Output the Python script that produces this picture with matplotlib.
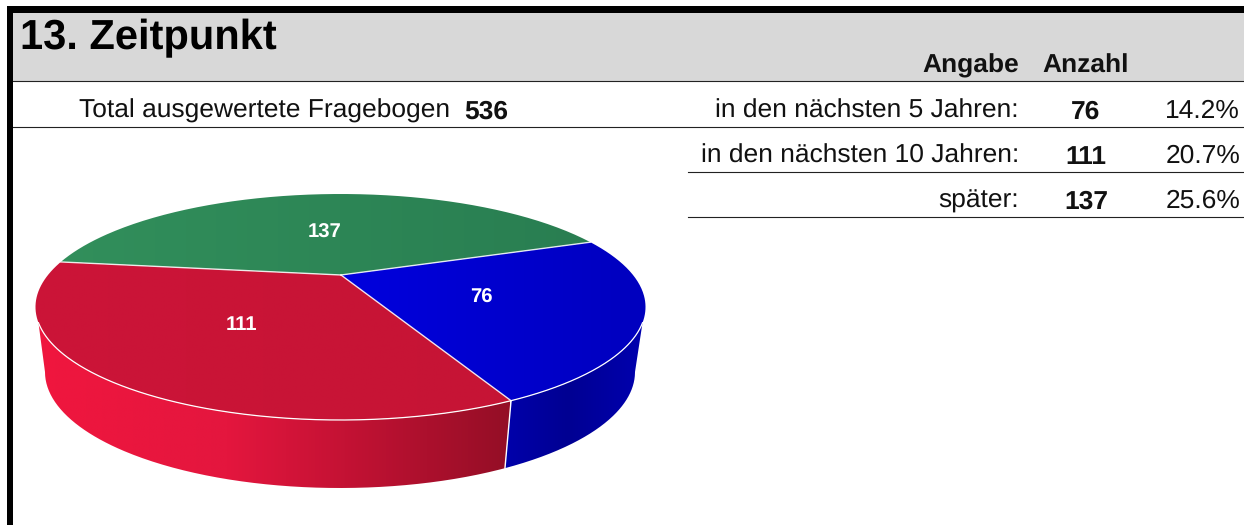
import numpy as np
import matplotlib
matplotlib.use("Agg")
import matplotlib.pyplot as plt
from matplotlib.path import Path
from matplotlib.patches import PathPatch, Rectangle

plt.rcParams['font.family'] = ['Liberation Sans', 'DejaVu Sans']
plt.rcParams['text.hinting'] = 'no_hinting'
plt.rcParams['text.hinting_factor'] = 8

title = "13. Zeitpunkt"
total_label = "Total ausgewertete Fragebogen"
total_value = "536"
header_answer = "Angabe"
header_count = "Anzahl"
answers = ["in den nächsten 5 Jahren:", "in den nächsten 10 Jahren:", "später:"]
counts = [76, 111, 137]
percents = ["14.2%", "20.7%", "25.6%"]

# slices as drawn, clockwise from the blue slice's start
slice_labels = ["76", "111", "137"]
slice_sweeps = [91.0, 147.5, 121.5]
slice_top_colors = [((0, 0, 222), (0, 0, 190)), ((204, 20, 56), (196, 20, 52)), ((50, 144, 92), (40, 124, 80))]
start_angle = 35.0

W, H = 1244, 525
fig = plt.figure(figsize=(W / 100, H / 100), dpi=100, facecolor="white")
ax = fig.add_axes([0, 0, 1, 1])
ax.set_xlim(0, W)
ax.set_ylim(H, 0)
ax.axis("off")

# page frame
ax.add_patch(Rectangle((13, 12), W - 13, 69, fc="#d8d8d8", ec="none", zorder=1))
ax.add_patch(Rectangle((7, 6), W - 7, 6.5, fc="black", ec="none", zorder=2))
ax.add_patch(Rectangle((7, 6), 6, H - 6, fc="black", ec="none", zorder=2))
for x0, yy in [(13, 81), (13, 127), (688, 172), (688, 217)]:
    ax.plot([x0, W], [yy, yy], color="#222222", lw=0.8, zorder=3)

# texts
ax.text(20, 49.5, title, fontsize=30, fontweight="bold", ha="left", va="baseline", color="black")
ax.text(450, 118, total_label, fontsize=19, ha="right", va="baseline", color="#111111")
ax.text(464, 119, total_value, fontsize=19, fontweight="bold", ha="left", va="baseline", color="#111111")
ax.text(1019, 72.5, header_answer, fontsize=19, fontweight="bold", ha="right", va="baseline", color="#111111")
ax.text(1086, 72.5, header_count, fontsize=19, fontweight="bold", ha="center", va="baseline", color="#111111")
for i, (a, c, p) in enumerate(zip(answers, counts, percents)):
    yb = 118 + 45 * i
    ax.text(1019, yb, a, fontsize=19, ha="right", va="baseline", color="#111111")
    ax.text(1086, yb + 1, str(c), fontsize=19, fontweight="bold", ha="center", va="baseline", color="#111111")
    ax.text(1240, yb, p, fontsize=19, ha="right", va="baseline", color="#111111")

# pie geometry
cx, cy, rx, ry = 340.5, 307.0, 305.0, 113.0
bx, by, brx, bry = 340.0, 372.0, 295.0, 116.0
ax_, ay_ = 341.0, 275.0


def gradient(clip, x0, x1, y0, y1, stops, z):
    xs = np.linspace(0, 1, 256)
    pos = [s[0] for s in stops]
    arr = np.stack([np.interp(xs, pos, [s[1][k] / 255 for s in stops]) for k in range(3)], axis=-1)[None, :, :]
    im = ax.imshow(arr, extent=(x0, x1, y1, y0), aspect="auto", zorder=z, interpolation="bilinear")
    patch = PathPatch(clip, transform=ax.transData, fc="none", ec="none")
    ax.add_patch(patch)
    im.set_clip_path(patch)


def top_pt(t):
    return cx + rx * np.cos(np.radians(t)), cy - ry * np.sin(np.radians(t))


def base_pt(t):
    return bx + brx * np.cos(np.radians(t)), by - bry * np.sin(np.radians(t))


def poly(pts):
    return Path(np.vstack([pts, pts[:1]]))


edges = [start_angle]
for s in slice_sweeps:
    edges.append(edges[-1] - s)

# side wall: front part of the rim only
rim_a, rim_b = -8.0, -172.0
front_split = edges[1]
walls = [
    (rim_a, front_split, 0.0, front_split, [(0, (0, 0, 172)), (0.45, (0, 0, 146)), (1, (0, 0, 176))], 503, 646),
    (front_split, rim_b, front_split, -180.0,
     [(0, (240, 22, 62)), (0.4, (228, 22, 62)), (0.65, (196, 18, 52)), (1, (148, 14, 38))], 38, 510),
]
for t0, t1, b0, b1, stops, x0, x1 in walls:
    top = np.array([top_pt(t) for t in np.linspace(t0, t1, 200)])
    bot = np.array([base_pt(t) for t in np.linspace(b1, b0, 200)])
    gradient(poly(np.vstack([top, bot])), x0, x1, 300, 495, stops, 4)

# top faces
for i in range(3):
    ts = np.linspace(edges[i], edges[i + 1], 200)
    pts = np.vstack([[(ax_, ay_)], [top_pt(t) for t in ts]])
    c0, c1 = slice_top_colors[i]
    if i == 0:
        gradient(poly(pts), 340, 650, 190, 425, [(0, c0), (1, c1)], 5)
    else:
        gradient(poly(pts), 30, 650, 190, 425, [(0, c0), (1, c1)], 5)
    # white dividers, apex to rim
    ex, ey = top_pt(edges[i])
    ax.plot([ax_, ex], [ay_, ey], color="white", lw=1.0, alpha=0.85, zorder=6)

# white rim on the front and divider down the wall
ts = np.linspace(rim_a, rim_b, 300)
rim = np.array([top_pt(t) for t in ts])
ax.plot(rim[:, 0], rim[:, 1], color="white", lw=0.9, zorder=6)
p0, p1 = top_pt(front_split), base_pt(front_split)
ax.plot([p0[0], p1[0]], [p0[1], p1[1]], color="white", lw=1.0, zorder=6)

# slice labels placed where the reference shows them
label_pos = [(481, 297.5), (241, 324.5), (324.5, 232.5)]
for s, (lx, ly) in zip(slice_labels, label_pos):
    ax.text(lx, ly, s, color="white", fontsize=14.6, fontweight="bold", ha="center", va="center", zorder=7)

ax.set_xlim(0, W)
ax.set_ylim(H, 0)
fig.savefig("out.png", dpi=100, facecolor="white")
